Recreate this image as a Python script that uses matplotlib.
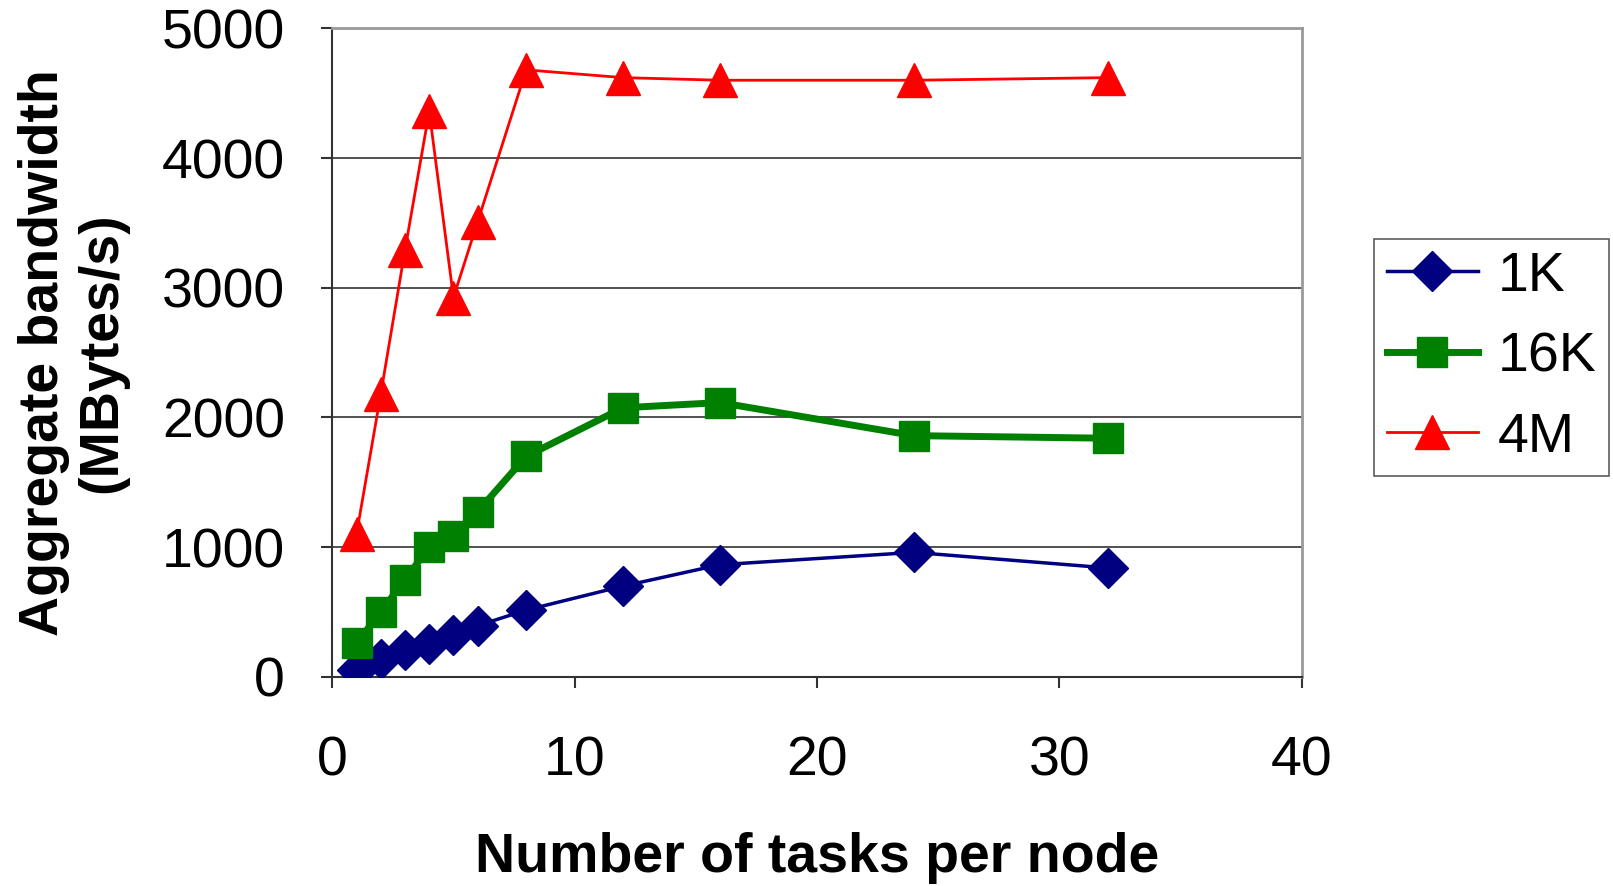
import matplotlib
matplotlib.use("Agg")
import matplotlib.pyplot as plt

x_tasks = [1, 2, 3, 4, 5, 6, 8, 12, 16, 24, 32]
bw_1k = [55, 135, 205, 255, 325, 395, 515, 700, 865, 960, 840]
bw_16k = [260, 500, 750, 1000, 1090, 1275, 1700, 2075, 2115, 1860, 1840]
bw_4m = [1100, 2180, 3290, 4360, 2925, 3510, 4680, 4620, 4600, 4600, 4620]
series_labels = ["1K", "16K", "4M"]
x_ticks = [0, 10, 20, 30, 40]
y_ticks = [0, 1000, 2000, 3000, 4000, 5000]

plt.rcParams['font.family'] = ['Liberation Sans', 'DejaVu Sans']

fig = plt.figure(figsize=(16.13, 8.86), dpi=100)
ax = fig.add_axes([0.206, 0.236, 0.601, 0.732])

ax.plot(x_tasks, bw_1k, color='#000080', lw=2.5, marker='D', ms=20, label=series_labels[0], zorder=3)
ax.plot(x_tasks, bw_16k, color='#008000', lw=5, marker='s', ms=21, label=series_labels[1], zorder=3)
ax.plot(x_tasks, bw_4m, color='#FF0000', lw=2, marker='^', ms=25, label=series_labels[2], zorder=3)

ax.set_xlim(0, 40)
ax.set_ylim(0, 5000)
ax.set_xticks(x_ticks)
ax.set_yticks(y_ticks)
ax.yaxis.grid(True, color='#333333', lw=1.2)
ax.set_axisbelow(True)
for side in ['top', 'right']:
    ax.spines[side].set_color('#999999')
    ax.spines[side].set_linewidth(2)
for side in ['left', 'bottom']:
    ax.spines[side].set_color('#333333')
    ax.spines[side].set_linewidth(1.5)
ax.tick_params(axis='both', labelsize=40, direction='out', length=8, width=1.5, color='#333333')
ax.tick_params(axis='x', pad=34)
ax.tick_params(axis='y', pad=26)

ax.set_xlabel("Number of tasks per node", fontsize=40, fontweight='bold', labelpad=32)
ax.set_ylabel("Aggregate bandwidth\n(MBytes/s)", fontsize=40, fontweight='bold', labelpad=24, linespacing=1.15)

leg = ax.legend(loc='center left', bbox_to_anchor=(1.075, 0.493), fontsize=40, frameon=True,
                fancybox=False, edgecolor='#333333', handlelength=1.65, borderpad=0.22,
                labelspacing=0.51, handletextpad=0.35, borderaxespad=0)
leg.get_frame().set_linewidth(1.2)

fig.savefig("out.png", dpi=100)
